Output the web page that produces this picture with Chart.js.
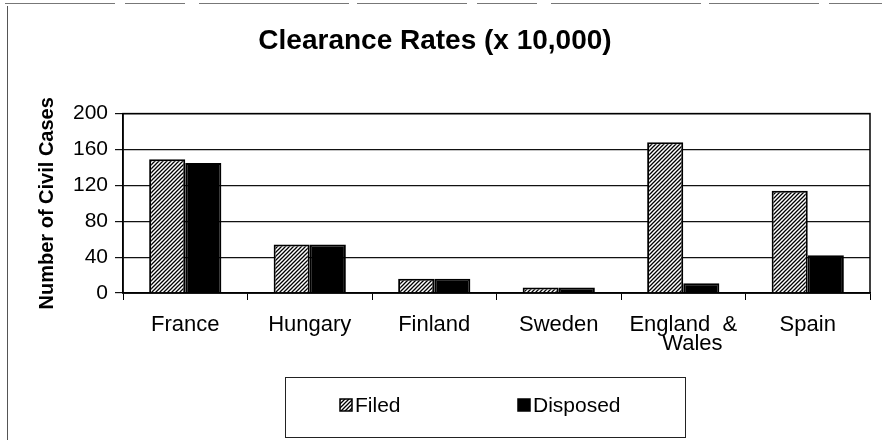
<!DOCTYPE html>
<html>
<head>
<meta charset="utf-8">
<script src="https://cdn.jsdelivr.net/npm/chart.js@4.4.1/dist/chart.umd.min.js"></script>
<style>
  html, body { margin: 0; padding: 0; background: #fff; }
  #wrap { width: 882px; height: 440px; }
</style>
</head>
<body>
<div id="wrap"><canvas id="chart" width="882" height="440"></canvas></div>
<script>
// data
const countries = ['France', 'Hungary', 'Finland', 'Sweden', ['England  &', '   Wales'], 'Spain'];
const filed = [149, 54, 16, 6, 168, 114];
const disposed = [145, 54, 16, 6, 11, 42];
const seriesNames = ['Filed', 'Disposed'];
const yTicks = [0, 40, 80, 120, 160, 200];

const FONT = "'Liberation Sans', Arial, sans-serif";

function makeHatch() {
    const s = 4;
    const c = document.createElement('canvas');
    c.width = c.height = s;
    const g = c.getContext('2d');
    g.fillStyle = '#fff';
    g.fillRect(0, 0, s, s);
    g.strokeStyle = '#000';
    g.lineWidth = 1.3;
    g.beginPath();
    g.moveTo(0, s); g.lineTo(s, 0);
    g.moveTo(-1, 1); g.lineTo(1, -1);
    g.moveTo(s - 1, s + 1); g.lineTo(s + 1, s - 1);
    g.stroke();
    return g.createPattern(c, 'repeat');
}
const hatch = makeHatch();

// frame, plot border and the boxed legend
const decor = {
    id: 'decor',
    afterDraw(chart) {
        const { ctx, chartArea: a } = chart;
        ctx.save();
        // scanned page frame
        ctx.strokeStyle = '#555';
        ctx.lineWidth = 1;
        ctx.beginPath();
        ctx.moveTo(7.5, 6); ctx.lineTo(7.5, 440);
        ctx.stroke();
        ctx.strokeStyle = '#777';
        ctx.setLineDash([110, 10, 60, 14, 150, 8]);
        ctx.beginPath();
        ctx.moveTo(5, 3.5); ctx.lineTo(882, 3.5);
        ctx.stroke();
        ctx.setLineDash([]);

        // plot border
        ctx.strokeStyle = '#000';
        ctx.lineWidth = 1.5;
        ctx.strokeRect(a.left, a.top, a.right - a.left, a.bottom - a.top);

        // legend box
        ctx.lineWidth = 1;
        ctx.strokeStyle = '#222';
        ctx.strokeRect(285.5, 377.5, 400, 60);
        const items = [
            { x: 340, fill: hatch, label: seriesNames[0] },
            { x: 518, fill: '#000', label: seriesNames[1] }
        ];
        ctx.font = '21px ' + FONT;
        ctx.textBaseline = 'middle';
        items.forEach(it => {
            ctx.fillStyle = it.fill;
            ctx.fillRect(it.x, 399, 12, 12);
            ctx.strokeStyle = '#000';
            ctx.lineWidth = 1.5;
            ctx.strokeRect(it.x, 399, 12, 12);
            ctx.fillStyle = '#000';
            ctx.fillText(it.label, it.x + 15, 406);
        });
        ctx.restore();
    }
};

new Chart(document.getElementById('chart'), {
    type: 'bar',
    data: {
        labels: countries,
        datasets: [
            { label: seriesNames[0], data: filed, backgroundColor: hatch, borderColor: '#000', borderWidth: 2 },
            { label: seriesNames[1], data: disposed, backgroundColor: '#000', borderColor: '#000', borderWidth: 2 }
        ]
    },
    options: {
        responsive: false,
        animation: false,
        layout: { padding: { left: 0, right: 12, top: 0, bottom: 0 } },
        datasets: { bar: { categoryPercentage: 0.58, barPercentage: 1.0 } },
        plugins: {
            legend: { display: false },
            tooltip: { enabled: false },
            title: {
                display: true,
                text: 'Clearance Rates (x 10,000)',
                color: '#000',
                font: { family: FONT, size: 28, weight: 'bold' },
                padding: { top: 24, bottom: 56 }
            }
        },
        scales: {
            x: {
                grid: { display: true, drawOnChartArea: false, drawTicks: true, tickLength: 7, color: '#000', offset: true },
                border: { display: true, color: '#000', width: 1.5 },
                ticks: { color: '#000', padding: 16, maxRotation: 0, autoSkip: false, font: { family: FONT, size: 22, lineHeight: 0.85 } },
                afterFit(scale) { scale.height = 147; }
            },
            y: {
                min: yTicks[0],
                max: yTicks[yTicks.length - 1],
                afterBuildTicks(scale) { scale.ticks = yTicks.map(v => ({ value: v })); },
                grid: { color: '#111', lineWidth: 1.2, tickLength: 8 },
                border: { display: true, color: '#000', width: 1.5 },
                ticks: { color: '#000', padding: 7, font: { family: FONT, size: 21 } },
                title: {
                    display: true,
                    text: 'Number of Civil Cases',
                    color: '#000',
                    font: { family: FONT, size: 20, weight: 'bold' },
                    padding: { top: 35, bottom: 0 }
                },
                afterFit(scale) { scale.width = 123; }
            }
        }
    },
    plugins: [decor]
});
</script>
</body>
</html>
